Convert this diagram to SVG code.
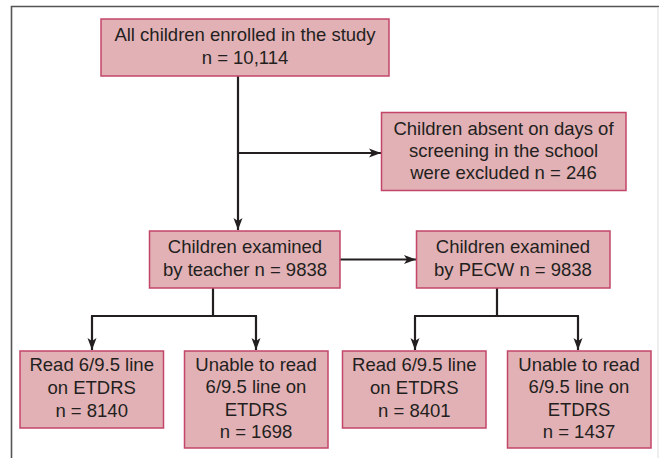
<svg xmlns="http://www.w3.org/2000/svg" width="659" height="458" viewBox="0 0 659 458">
<style>
.box{fill:#e1b1b5;stroke:#c3466a;stroke-width:1.5}
.t{font-family:"Liberation Sans",Arial,sans-serif;font-size:18.5px;fill:#231f20;text-anchor:middle}
.ln{fill:none;stroke:#231f20;stroke-width:2.2}
</style>
<defs>
<marker id="ah" viewBox="0 0 12 10" refX="12" refY="5" markerWidth="12" markerHeight="10" markerUnits="userSpaceOnUse" orient="auto">
<path d="M0,0.5 L12,5 L0,9.5 L3,5 Z" fill="#231f20"/>
</marker>
</defs>
<rect width="659" height="458" fill="#fff"/>
<g id="frame">
<path d="M11.5,458 V6.5 H659" fill="none" stroke="#555" stroke-width="1.6"/>
<path d="M658,7 V458" fill="none" stroke="#ddd" stroke-width="1"/>
</g>
<g id="connectors">
<path class="ln" d="M238,76 V230" marker-end="url(#ah)"/>
<path class="ln" d="M238,153 H381" marker-end="url(#ah)"/>
<path class="ln" d="M340,259.5 H416" marker-end="url(#ah)"/>
<path class="ln" d="M213,288 V316 M91,316 H257"/>
<path class="ln" d="M92,316 V350" marker-end="url(#ah)"/>
<path class="ln" d="M256,316 V350" marker-end="url(#ah)"/>
<path class="ln" d="M497,288 V316 M414,316 H579"/>
<path class="ln" d="M415,316 V350" marker-end="url(#ah)"/>
<path class="ln" d="M578,316 V350" marker-end="url(#ah)"/>
</g>
<g id="n1">
<rect class="box" x="101" y="19" width="288" height="57"/>
<text class="t" x="245" y="41">All children enrolled in the study</text>
<text class="t" x="245" y="63.5">n = 10,114</text>
</g>
<g id="n2">
<rect class="box" x="381.5" y="112.5" width="244.5" height="78"/>
<text class="t" x="503.5" y="135">Children absent on days of</text>
<text class="t" x="503.5" y="157">screening in the school</text>
<text class="t" x="503.5" y="179">were excluded n = 246</text>
</g>
<g id="n3">
<rect class="box" x="149.5" y="231" width="190.5" height="57"/>
<text class="t" x="245" y="253">Children examined</text>
<text class="t" x="245" y="275.5">by teacher n = 9838</text>
</g>
<g id="n4">
<rect class="box" x="416.5" y="231" width="193.5" height="57"/>
<text class="t" x="513" y="253">Children examined</text>
<text class="t" x="513" y="275.5">by PECW n = 9838</text>
</g>
<g id="n5">
<rect class="box" x="20" y="351" width="143.5" height="77"/>
<text class="t" x="91.7" y="371">Read 6/9.5 line</text>
<text class="t" x="91.7" y="394">on ETDRS</text>
<text class="t" x="91.7" y="417">n = 8140</text>
</g>
<g id="n6">
<rect class="box" x="184.5" y="351" width="143.5" height="97"/>
<text class="t" x="256" y="371">Unable to read</text>
<text class="t" x="256" y="393">6/9.5 line on</text>
<text class="t" x="256" y="415.5">ETDRS</text>
<text class="t" x="256" y="438">n = 1698</text>
</g>
<g id="n7">
<rect class="box" x="342.5" y="351" width="143.5" height="77"/>
<text class="t" x="414.3" y="371">Read 6/9.5 line</text>
<text class="t" x="414.3" y="394">on ETDRS</text>
<text class="t" x="414.3" y="417">n = 8401</text>
</g>
<g id="n8">
<rect class="box" x="507.5" y="351" width="143.5" height="97"/>
<text class="t" x="579" y="371">Unable to read</text>
<text class="t" x="579" y="393">6/9.5 line on</text>
<text class="t" x="579" y="415.5">ETDRS</text>
<text class="t" x="579" y="438">n = 1437</text>
</g>
</svg>
